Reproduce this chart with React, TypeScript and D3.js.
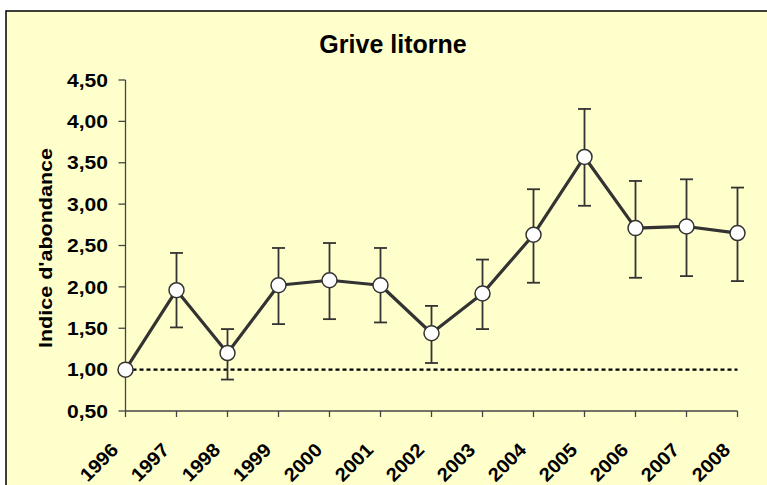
import React from "react";
import * as d3 from "d3";

const years = ["1996","1997","1998","1999","2000","2001","2002","2003","2004","2005","2006","2007","2008"];
const indexValues = [1.00, 1.96, 1.20, 2.02, 2.08, 2.02, 1.44, 1.92, 2.63, 3.57, 2.71, 2.73, 2.65];
const upperValues = [1.00, 2.41, 1.49, 2.47, 2.53, 2.47, 1.77, 2.33, 3.18, 4.15, 3.28, 3.30, 3.20];
const lowerValues = [1.00, 1.51, 0.88, 1.55, 1.61, 1.57, 1.08, 1.49, 2.05, 2.98, 2.11, 2.13, 2.07];
const yTicks = [0.5, 1.0, 1.5, 2.0, 2.5, 3.0, 3.5, 4.0, 4.5];
const referenceLevel = 1.0;
const title = "Grive litorne";
const yLabel = "Indice d'abondance";

const W = 767, H = 485;
const X0 = 125.5, X1 = 737.5, Y0 = 411, Y1 = 80;
const FONT = "'Liberation Sans', Arial, sans-serif";
const DARK = "#333333";

export default function App() {
  const x = d3.scalePoint<string>().domain(years).range([X0, X1]);
  const y = d3.scaleLinear().domain([0.5, 4.5]).range([Y0, Y1]);
  const fmt = (v: number) => v.toFixed(2).replace(".", ",");
  const line = d3.line<number>().x((_, i) => x(years[i])!).y((v) => y(v));

  return (
    <svg width={W} height={H} style={{ position: "absolute", left: 0, top: 0 }} fontFamily={FONT}>
      <rect x={0} y={0} width={W} height={H} fill="#ffffff" />
      <rect x={6} y={11} width={W + 20} height={H + 20} fill="#FFFFCC" stroke="#000" strokeWidth={1.5} />
      <text x={393} y={53} textAnchor="middle" fontSize={25} fontWeight="bold" fill="#000">{title}</text>

      {/* y axis */}
      <line x1={X0} x2={X0} y1={Y1} y2={Y0} stroke="#444" strokeWidth={1.3} />
      {yTicks.map((t) => (
        <g key={t}>
          <line x1={X0 - 7} x2={X0} y1={y(t)} y2={y(t)} stroke="#444" strokeWidth={1.3} />
          <text x={108} y={y(t)} dy="0.37em" textAnchor="end" fontSize={18} fontWeight="bold"
            textLength={41} lengthAdjust="spacingAndGlyphs" fill="#000">{fmt(t)}</text>
        </g>
      ))}
      <text transform={`translate(52,248) rotate(-90)`} textAnchor="middle" fontSize={19} fontWeight="bold"
        textLength={200} lengthAdjust="spacingAndGlyphs" fill="#000">{yLabel}</text>

      {/* x axis */}
      <line x1={X0} x2={X1} y1={Y0} y2={Y0} stroke="#444" strokeWidth={1.3} />
      {years.map((yr) => (
        <g key={yr}>
          <line x1={x(yr)} x2={x(yr)} y1={Y0} y2={Y0 + 6} stroke="#444" strokeWidth={1.3} />
          <text transform={`translate(${x(yr)! - 6},${451}) rotate(-45)`} textAnchor="end" fontSize={19}
            fontWeight="bold" textLength={45} lengthAdjust="spacingAndGlyphs" fill="#000">{yr}</text>
        </g>
      ))}

      {/* reference line */}
      <line x1={X0} x2={X1} y1={y(referenceLevel)} y2={y(referenceLevel)} stroke="#000"
        strokeWidth={2.2} strokeDasharray="4,3" />

      {/* error bars */}
      {years.map((yr, i) => (
        upperValues[i] !== lowerValues[i] ? (
          <g key={yr} stroke={DARK} strokeWidth={1.8}>
            <line x1={x(yr)} x2={x(yr)} y1={y(upperValues[i])} y2={y(lowerValues[i])} />
            <line x1={x(yr)! - 6.5} x2={x(yr)! + 6.5} y1={y(upperValues[i])} y2={y(upperValues[i])} />
            <line x1={x(yr)! - 6.5} x2={x(yr)! + 6.5} y1={y(lowerValues[i])} y2={y(lowerValues[i])} />
          </g>
        ) : null
      ))}

      <path d={line(indexValues)!} fill="none" stroke={DARK} strokeWidth={3.2} strokeLinejoin="round" />
      {years.map((yr, i) => (
        <circle key={yr} cx={x(yr)} cy={y(indexValues[i])} r={7.5} fill="#fff" stroke={DARK} strokeWidth={1.5} />
      ))}
    </svg>
  );
}
